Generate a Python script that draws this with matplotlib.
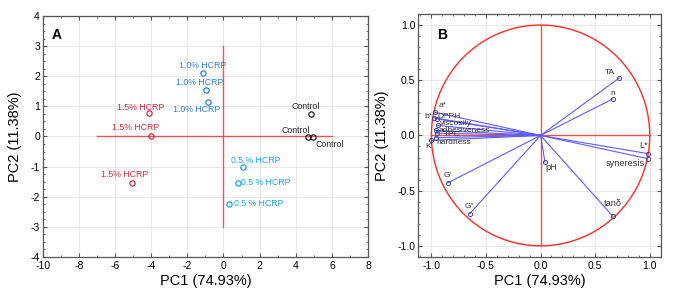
import matplotlib
matplotlib.use("Agg")
import matplotlib.pyplot as plt
from matplotlib.ticker import MultipleLocator
import numpy as np

plt.rcParams['font.family'] = ['Liberation Sans', 'DejaVu Sans']
plt.rcParams['axes.unicode_minus'] = False

# ---------------- Data: panel A (scores) ----------------
score_labels = ["1.0% HCRP", "1.0% HCRP", "1.0% HCRP",
                "1.5% HCRP", "1.5% HCRP", "1.5% HCRP",
                "Control", "Control", "Control",
                "0.5 % HCRP", "0.5 % HCRP", "0.5 % HCRP"]
score_groups = ["1.0", "1.0", "1.0", "1.5", "1.5", "1.5",
                "ctrl", "ctrl", "ctrl", "0.5", "0.5", "0.5"]
score_pc1 = [-1.13, -0.94, -0.83, -4.11, -4.00, -5.04,
             4.87, 4.70, 4.93, 1.09, 0.80, 0.30]
score_pc2 = [2.12, 1.53, 1.13, 0.77, 0.02, -1.54,
             0.76, -0.03, -0.02, -1.01, -1.54, -2.24]

# ---------------- Data: panel B (loadings) ----------------
load_labels = ["TA", "n", "a*", "b*", "DPPH", "viscosity", "adhesiveness",
               "TPC", "hardness", "K'", "L*", "syneresis", "pH", "G'", "G\"", "tan\u03b4"]
load_pc1 = [0.72, 0.66, -0.97, -0.98, -0.95, -0.94, -0.96,
            -0.95, -0.96, -1.00, 0.985, 0.98, 0.04, -0.85, -0.65, 0.66]
load_pc2 = [0.52, 0.33, 0.21, 0.16, 0.15, 0.09, 0.045,
            0.02, -0.02, -0.045, -0.165, -0.21, -0.24, -0.43, -0.71, -0.73]

# ---------------- Styling ----------------
group_colors = {"1.0": "#2f7fd1", "1.5": "#d42a3c", "ctrl": "#222222", "0.5": "#19a6ee"}
# label offsets in pixels (dx, dy, ha)
score_offsets = [(0, 7, 'center'), (-7, 8, 'center'), (-12, -7, 'center'),
                 (-9, 6, 'center'), (-16, 8, 'center'), (-8, 8, 'center'),
                 (-6, 7, 'center'), (-13, 7, 'center'), (17, -7, 'center'),
                 (13, 6, 'center'), (3, 0, 'left'), (5, 0, 'left')]
load_offsets = [(-9, 6, 'center'), (0, 5, 'center'), (4, 7, 'left'), (-1, 1, 'right'),
                (1, 2, 'left'), (2, 2, 'left'), (3, 0, 'left'), (7, -1, 'left'),
                (1, -5, 'left'), (-2, -6, 'center'), (-5, 8, 'center'), (-22, -5, 'center'),
                (0, -6, 'left'), (0, 7, 'center'), (0, 7, 'center'), (0, 13, 'center')]
load_big = {"L*", "syneresis", "pH", "tan\u03b4"}

fig = plt.figure(figsize=(6.79, 3.04), dpi=100)
axA = fig.add_axes([0.063, 0.155, 0.479, 0.792])
axB = fig.add_axes([0.616, 0.155, 0.357, 0.799])

def style_axes(ax):
    ax.grid(True, which='major', color='#e4e4e4', linewidth=0.6)
    ax.set_axisbelow(True)
    for s in ax.spines.values():
        s.set_color('#555555')
        s.set_linewidth(0.9)
    ax.tick_params(which='both', direction='in', top=True, right=True,
                   color='#555555', labelsize=7.5, pad=2)
    ax.tick_params(axis='x', which='major', pad=3)
    ax.tick_params(which='major', length=3)
    ax.tick_params(which='minor', length=1.5)

# ---- Panel A ----
style_axes(axA)
axA.set_xlim(-10, 8)
axA.set_ylim(-4, 4)
axA.xaxis.set_major_locator(MultipleLocator(2))
axA.xaxis.set_minor_locator(MultipleLocator(1))
axA.yaxis.set_major_locator(MultipleLocator(1))
axA.yaxis.set_minor_locator(MultipleLocator(0.25))
axA.plot([-7, 6], [0, 0], color='#f05050', lw=1.0, zorder=2)
axA.plot([0, 0], [-3, 3], color='#f05050', lw=1.0, zorder=2)
for lab, g, x, y, (dx, dy, ha) in zip(score_labels, score_groups, score_pc1, score_pc2, score_offsets):
    c = group_colors[g]
    axA.plot([x], [y], 'o', ms=3.8, mfc='none', mec=c, mew=0.9, zorder=3)
    axA.annotate(lab, (x, y), xytext=(dx, dy), textcoords='offset pixels',
                 ha=ha, va='center', fontsize=6.3, color=c)
axA.text(0.027, 0.92, "A", transform=axA.transAxes, fontsize=10, fontweight='bold',
         ha='left', va='center')
axA.set_xlabel("PC1 (74.93%)", fontsize=10.5, labelpad=2)
axA.set_ylabel("PC2 (11.38%)", fontsize=10.5, labelpad=6)

# ---- Panel B ----
style_axes(axB)
axB.set_xlim(-1.12, 1.10)
axB.set_ylim(-1.10, 1.10)
axB.xaxis.set_major_locator(MultipleLocator(0.5))
axB.xaxis.set_minor_locator(MultipleLocator(0.1))
axB.yaxis.set_major_locator(MultipleLocator(0.5))
axB.yaxis.set_minor_locator(MultipleLocator(0.1))
axB.xaxis.set_major_formatter(matplotlib.ticker.FormatStrFormatter('%.1f'))
axB.yaxis.set_major_formatter(matplotlib.ticker.FormatStrFormatter('%.1f'))
t = np.linspace(0, 2 * np.pi, 400)
axB.plot(np.cos(t), np.sin(t), color='#ff2a2a', lw=1.0, zorder=2)
axB.plot([-1, 1], [0, 0], color='#ff4a4a', lw=1.0, zorder=2)
axB.plot([0, 0], [-1, 1], color='#ff4a4a', lw=1.0, zorder=2)
for lab, x, y, (dx, dy, ha) in zip(load_labels, load_pc1, load_pc2, load_offsets):
    axB.plot([0, x], [0, y], color='#5c5cff', lw=0.8, zorder=3)
    axB.plot([x], [y], 'o', ms=3, mfc='none', mec='#44448a', mew=0.7, zorder=4)
    big = lab in load_big
    axB.annotate(lab, (x, y), xytext=(dx, dy), textcoords='offset pixels',
                 ha=ha, va='center', fontsize=6.6 if big else 6.0, color='#333333')
axB.text(0.077, 0.914, "B", transform=axB.transAxes, fontsize=10, fontweight='bold',
         ha='left', va='center')
axB.set_xlabel("PC1 (74.93%)", fontsize=10.5, labelpad=2)
axB.set_ylabel("PC2 (11.38%)", fontsize=10.5, labelpad=6)

fig.savefig("out.png", dpi=100)
